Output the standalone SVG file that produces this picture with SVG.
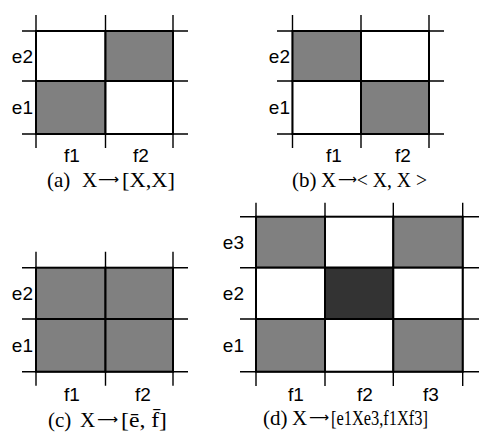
<svg xmlns="http://www.w3.org/2000/svg" width="479" height="437" viewBox="0 0 479 437">
<style>
.ext{stroke:#000;stroke-width:1.4;fill:none}
.cell{stroke:#000;stroke-width:2}
.w{fill:#fff}
.g{fill:#808080}
.d{fill:#333}
.lab{font-family:"Liberation Sans",Arial,sans-serif;font-size:19px;fill:#000}
.le{text-anchor:end}
.lf{text-anchor:middle}
.cap{font-family:"Liberation Serif","Times New Roman",serif;font-size:21px;fill:#000}
.arr{font-family:"DejaVu Sans",sans-serif;font-size:14px;fill:#000}
</style>
<rect width="479" height="437" fill="#fff"/>

<g id="panel-a">
<g class="ext">
<path d="M22 31H188M22 81H188M22 134H188M36 15V148M105.5 15V148M173 15V148"/>
</g>
<rect class="cell w" x="36" y="31" width="69.5" height="50"/>
<rect class="cell g" x="105.5" y="31" width="67.5" height="50"/>
<rect class="cell g" x="36" y="81" width="69.5" height="53"/>
<rect class="cell w" x="105.5" y="81" width="67.5" height="53"/>
<text class="lab le" x="33" y="63">e2</text>
<text class="lab le" x="33" y="114">e1</text>
<text class="lab lf" x="72" y="162">f1</text>
<text class="lab lf" x="141" y="162">f2</text>
<text class="cap" x="47" y="187">(a)</text>
<text class="cap" x="82" y="187">X</text>
<text class="arr" x="98" y="184" textLength="21" lengthAdjust="spacingAndGlyphs">⟶</text>
<text class="cap" x="122" y="187" textLength="53" lengthAdjust="spacingAndGlyphs">[X,X]</text>
</g>

<g id="panel-b">
<g class="ext">
<path d="M277 31H444M277 81H444M277 134H444M292.5 15V148M361 15V148M429 15V148"/>
</g>
<rect class="cell g" x="292.5" y="31" width="68.5" height="50"/>
<rect class="cell w" x="361" y="31" width="68" height="50"/>
<rect class="cell w" x="292.5" y="81" width="68.5" height="53"/>
<rect class="cell g" x="361" y="81" width="68" height="53"/>
<text class="lab le" x="290" y="63">e2</text>
<text class="lab le" x="290" y="114">e1</text>
<text class="lab lf" x="334" y="162">f1</text>
<text class="lab lf" x="403" y="162">f2</text>
<text class="cap" x="292" y="187">(b)</text>
<text class="cap" x="321" y="187">X</text>
<text class="cap" x="338" y="187" textLength="89" lengthAdjust="spacingAndGlyphs"><tspan class="arr" dy="-3">⟶</tspan><tspan dy="3">&lt; X, X &gt;</tspan></text>
</g>

<g id="panel-c">
<g class="ext">
<path d="M22 267.7H188M22 319H188M22 371.7H188M36 251.7V385.7M105.5 251.7V385.7M173 251.7V385.7"/>
</g>
<rect class="cell g" x="36" y="267.7" width="69.5" height="51.3"/>
<rect class="cell g" x="105.5" y="267.7" width="67.5" height="51.3"/>
<rect class="cell g" x="36" y="319" width="69.5" height="52.7"/>
<rect class="cell g" x="105.5" y="319" width="67.5" height="52.7"/>
<text class="lab le" x="33" y="300">e2</text>
<text class="lab le" x="33" y="352">e1</text>
<text class="lab lf" x="72" y="401">f1</text>
<text class="lab lf" x="143" y="401">f2</text>
<text class="cap" x="48" y="427">(c)</text>
<text class="cap" x="80" y="427">X</text>
<text class="arr" x="97" y="424" textLength="21" lengthAdjust="spacingAndGlyphs">⟶</text>
<text class="cap" x="121" y="427" textLength="46" lengthAdjust="spacingAndGlyphs">[ē, f̄]</text>
</g>

<g id="panel-d">
<g class="ext">
<path d="M240 216.7H479M240 267.7H479M240 319H479M240 371.7H479M256 202.7V386M325 202.7V386M393.3 202.7V386M462.7 202.7V386"/>
</g>
<rect class="cell g" x="256" y="216.7" width="69" height="51"/>
<rect class="cell w" x="325" y="216.7" width="68.3" height="51"/>
<rect class="cell g" x="393.3" y="216.7" width="69.4" height="51"/>
<rect class="cell w" x="256" y="267.7" width="69" height="51.3"/>
<rect class="cell d" x="325" y="267.7" width="68.3" height="51.3"/>
<rect class="cell w" x="393.3" y="267.7" width="69.4" height="51.3"/>
<rect class="cell g" x="256" y="319" width="69" height="52.7"/>
<rect class="cell w" x="325" y="319" width="68.3" height="52.7"/>
<rect class="cell g" x="393.3" y="319" width="69.4" height="52.7"/>
<text class="lab le" x="244" y="249">e3</text>
<text class="lab le" x="244" y="300">e2</text>
<text class="lab le" x="244" y="352">e1</text>
<text class="lab lf" x="296" y="401">f1</text>
<text class="lab lf" x="365" y="401">f2</text>
<text class="lab lf" x="431" y="401">f3</text>
<text class="cap" x="263" y="425">(d)</text>
<text class="cap" x="292" y="425">X</text>
<text class="arr" x="309" y="422" textLength="20" lengthAdjust="spacingAndGlyphs">⟶</text>
<text class="cap" x="331" y="425" textLength="97" lengthAdjust="spacingAndGlyphs">[e1Xe3,f1Xf3]</text>
</g>
</svg>
